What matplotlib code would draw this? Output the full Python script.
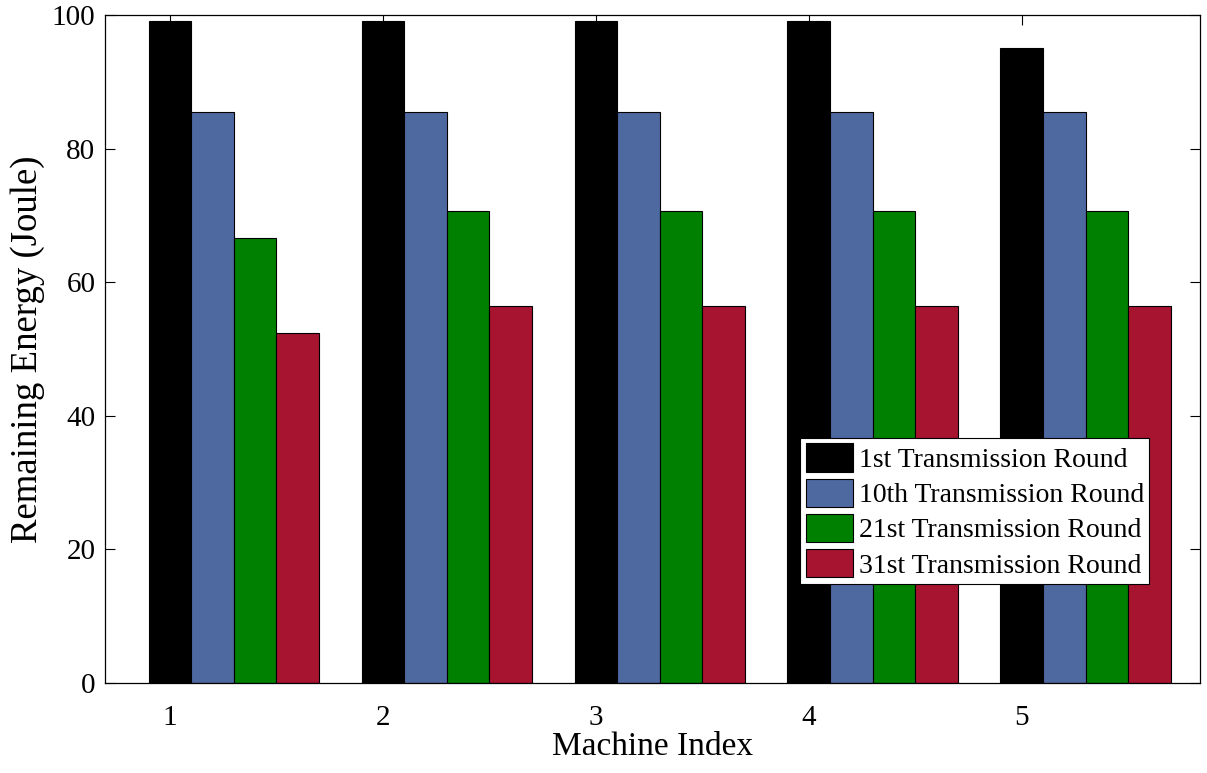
import numpy as np
import matplotlib.pyplot as plt

machines = [1, 2, 3, 4, 5]
round_labels = ['1st Transmission Round', '10th Transmission Round',
                '21st Transmission Round', '31st Transmission Round']
round1 = [99.1, 99.1, 99.1, 99.1, 95.0]
round10 = [85.5, 85.5, 85.5, 85.5, 85.5]
round21 = [66.6, 70.7, 70.7, 70.7, 70.7]
round31 = [52.4, 56.5, 56.5, 56.5, 56.5]
colors = ['#000000', '#4E68A0', '#008000', '#A6142F']

plt.rcParams['font.family'] = ['Liberation Serif', 'DejaVu Serif']

fig = plt.figure(figsize=(12.07, 7.73), dpi=100)
ax = fig.add_axes([0.087, 0.1164, 0.907, 0.8642])

x = np.array(machines, dtype=float)
w = 0.2
series = [round1, round10, round21, round31]
for k, vals in enumerate(series):
    ax.bar(x + k * w, vals, width=w, color=colors[k], edgecolor='black',
           linewidth=0.8, label=round_labels[k])

ax.set_xlim(0.695, 5.836)
ax.set_ylim(0, 100)
ax.set_xticks(machines)
ax.set_yticks([0, 20, 40, 60, 80, 100])
ax.tick_params(direction='in', top=True, right=True, length=7, width=0.8,
               labelsize=21, pad=7)
ax.tick_params(axis='x', pad=16)
for s in ax.spines.values():
    s.set_linewidth(0.9)

ax.set_xlabel('Machine Index', fontsize=24, labelpad=0)
ax.set_ylabel('Remaining Energy (Joule)', fontsize=26.5, labelpad=5)

leg = ax.legend(loc='lower right', bbox_to_anchor=(0.954, 0.148), fontsize=20,
                frameon=True, fancybox=False, edgecolor='black', framealpha=1,
                handlelength=1.7, handleheight=1.2, handletextpad=0.2,
                labelspacing=0.2, borderpad=0.2, borderaxespad=0)
leg.get_frame().set_linewidth(0.8)

fig.savefig('out.png', dpi=100)
